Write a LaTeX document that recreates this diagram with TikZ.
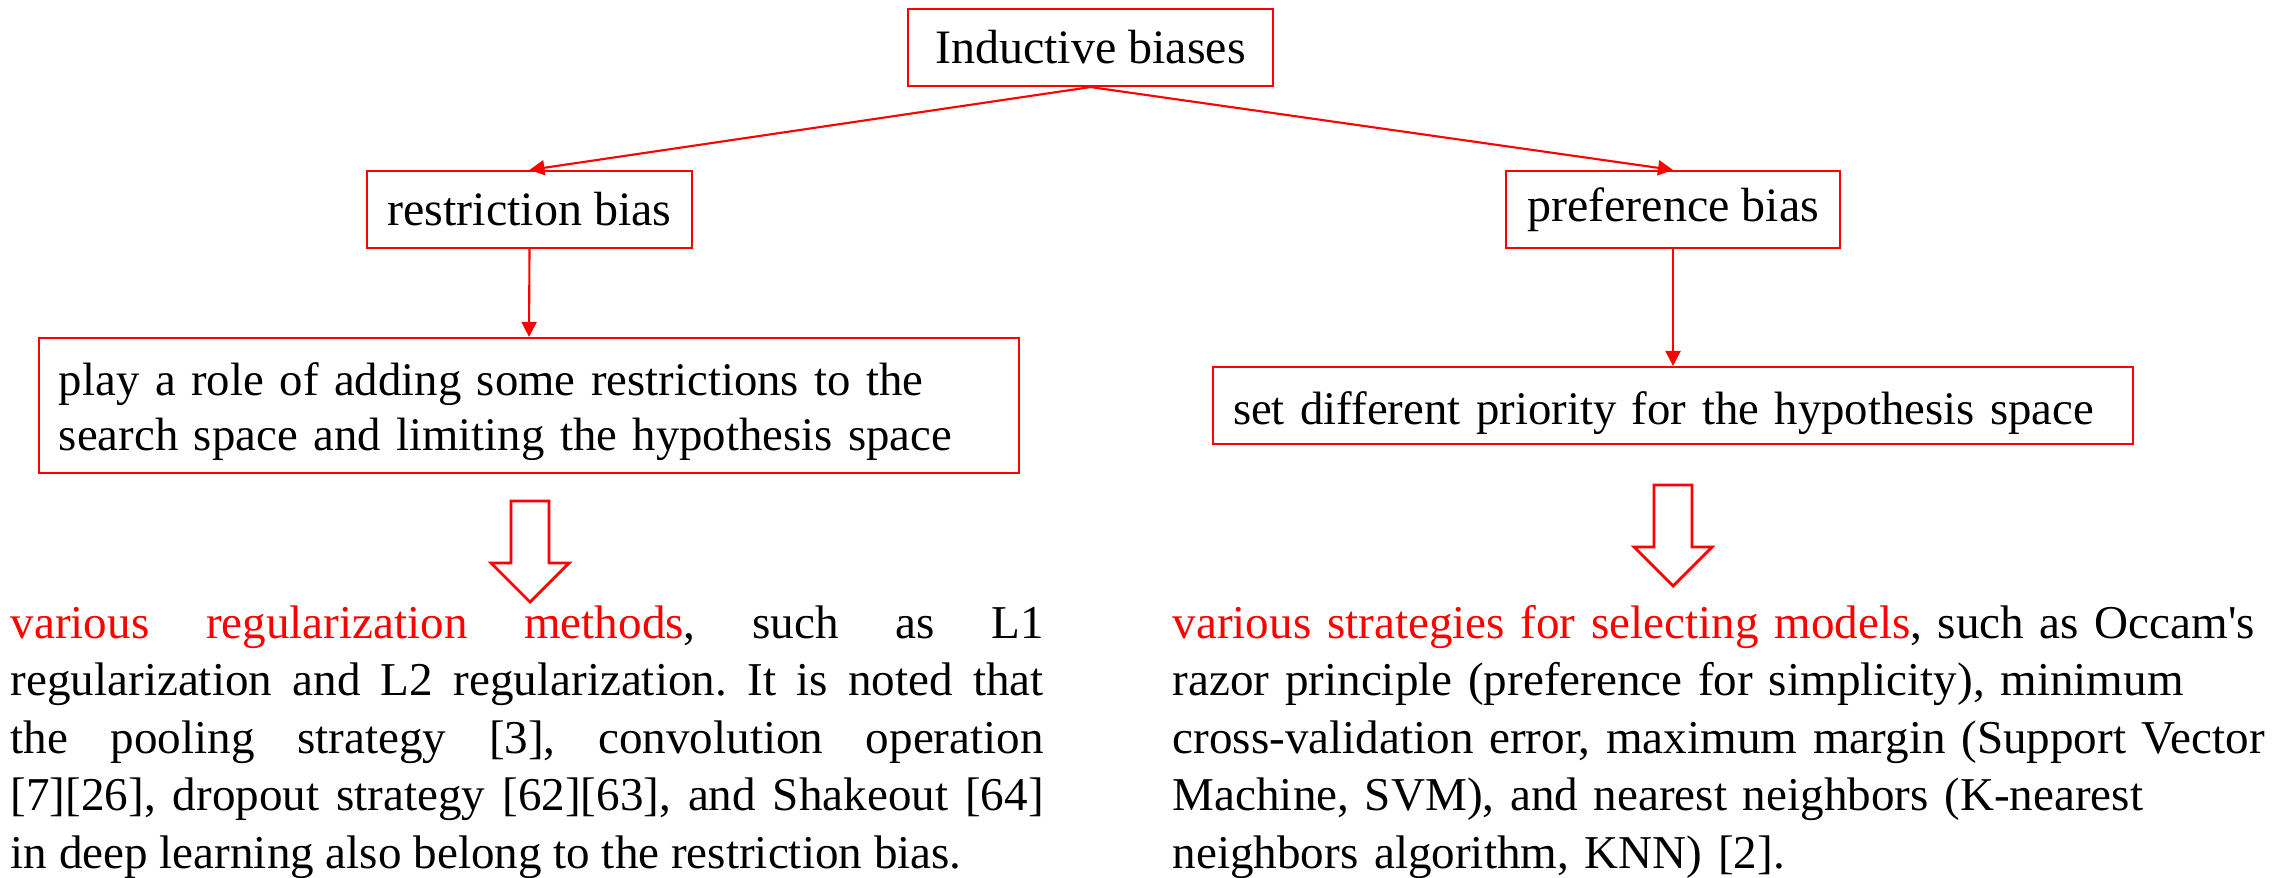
\documentclass[tikz,border=0pt]{standalone}
\usepackage{fontspec}
\setmainfont{Liberation Serif}[Ligatures=TeXOff]
\usepackage{tikz}
\usetikzlibrary{arrows.meta}
\usepackage{xcolor}

\begin{document}
\begin{tikzpicture}[
        every node/.style = {font = \fontsize{13.66pt}{16.36pt}\selectfont},
        box/.style = {draw = red, line width = 0.6pt, minimum height = 0.77cm, inner xsep = 0.2cm},
        descfont/.style = {font = \fontsize{13.3pt}{15.8pt}\selectfont, inner ysep = 0.2cm, text height = 0.37cm},
        link/.style = {-{Triangle[length = 1.5mm, width = 1.5mm]}, red, line width = 0.6pt},
        hollow/.style = {draw = red, line width = 0.8pt, fill = white},
        para/.style = {anchor = base west, inner sep = 0pt, text width = #1,
            font = \fontsize{13.4pt}{16.4pt}\selectfont}
    ]
        \useasboundingbox (0,0) rectangle (22.93,-8.77);

        % Tree
        \node[box, minimum width = 3.65cm] (top) at (10.905,-0.475) {Inductive biases};
        \node[box, minimum width = 3.25cm] (rbias) at (5.295,-2.095) {restriction bias};
        \node[box, minimum width = 3.34cm] (pbias) at (16.73,-2.095) {preference bias};
        \node[box, descfont, text depth = 0.58cm, text width = 9.40cm, align = left] (rdesc) at (5.29,-4.055)
            {play a role of adding some restrictions to the\\search space and limiting the hypothesis space};
        \node[box, descfont, text depth = 0cm, text width = 8.80cm, align = left] (pdesc) at (16.73,-4.055)
            {set different priority for the hypothesis space};

        \draw[link] (top.south) -- (rbias.north);
        \draw[link] (top.south) -- (pbias.north);
        \draw[link] (rbias.south) -- (rdesc.north);
        \draw[link] (pbias.south) -- (pdesc.north);

        % Hollow arrows
        \foreach \x/\y in {5.30/-5.01, 16.73/-4.85}
            \draw[hollow] (\x-0.19,\y) -- (\x+0.19,\y) -- (\x+0.19,\y-0.62) -- (\x+0.39,\y-0.62)
                -- (\x,\y-1.01) -- (\x-0.39,\y-0.62) -- (\x-0.19,\y-0.62) -- cycle;

        % Texts
        \node[para = 10.33cm, align = justify] (rtext) at (0.10,-6.38)
            {\frenchspacing\tolerance=10000 \hyphenpenalty=10000
            \textcolor{red}{various regularization methods}, such as L1\linebreak\relax
            regularization and L2 regularization. It is noted that\linebreak\relax
            the pooling strategy [3], convolution operation\linebreak\relax
            [7][26], dropout strategy [62][63], and Shakeout [64]\linebreak\relax
            in deep learning also belong to the restriction bias.};
        \node[para = 11.30cm, align = left] (ptext) at (11.72,-6.38)
            {\frenchspacing
            \textcolor{red}{various strategies for selecting models}, such as Occam's\\
            razor principle (preference for simplicity), minimum\\
            cross-validation error, maximum margin (Support Vector\\
            Machine, SVM), and nearest neighbors (K-nearest\\
            neighbors algorithm, KNN) [2].};
    \end{tikzpicture}
\end{document}
